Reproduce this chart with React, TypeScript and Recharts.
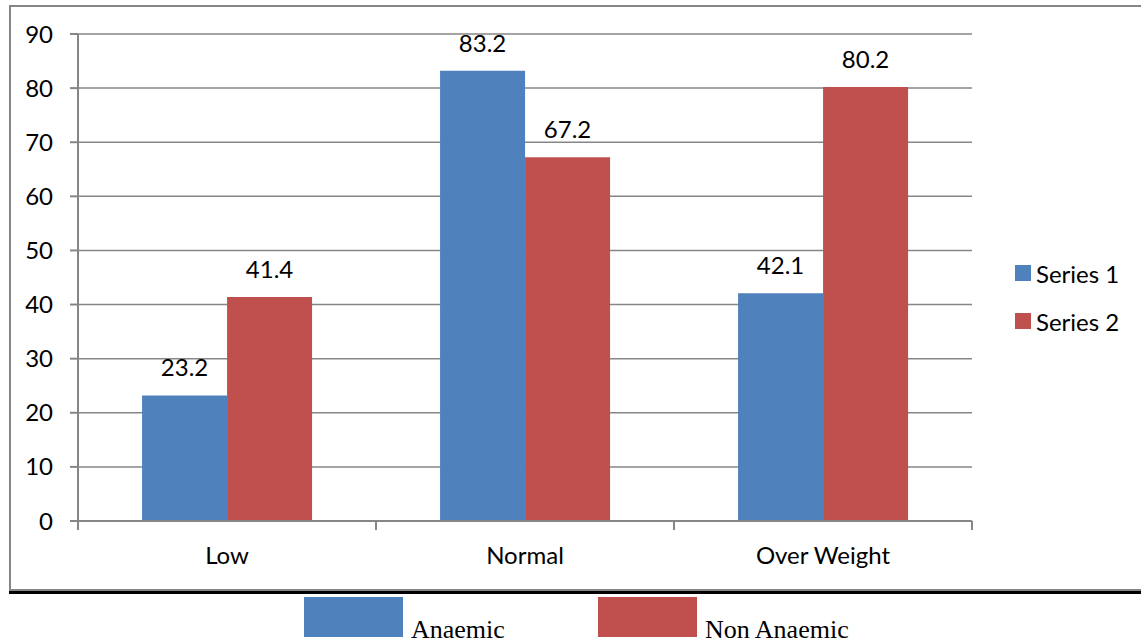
import React from "react";
import { BarChart, Bar, XAxis, YAxis, CartesianGrid, Legend, LabelList } from "recharts";

const categories = ["Low", "Normal", "Over Weight"];
const series1 = [23.2, 83.2, 42.1];
const series2 = [41.4, 67.2, 80.2];
const yTicks = [0, 10, 20, 30, 40, 50, 60, 70, 80, 90];
const bottomLegend = ["Anaemic", "Non Anaemic"];

const BLUE = "#4F81BD";
const RED = "#C0504D";
const GRAY = "#868686";
const FONT = "Lato, 'Open Sans', sans-serif";

const data = categories.map((c, i) => ({ name: c, s1: series1[i], s2: series2[i] }));

const SideLegend = ({ payload }: any) => (
  <div style={{ fontFamily: FONT, fontSize: 24, color: "#000" }}>
    {(payload || []).map((p: any) => (
      <div key={p.value} style={{ display: "flex", alignItems: "center", height: 48 }}>
        <span style={{ width: 16, height: 16, background: p.color, marginRight: 5, display: "inline-block" }} />
        <span>{p.value}</span>
      </div>
    ))}
  </div>
);

// category label plus tick marks on the band edges (Excel style)
const CatTick = (props: any) => {
  const { x, y, payload, width, visibleTicksCount, index } = props;
  const half = width && visibleTicksCount ? width / visibleTicksCount / 2 : payload?.offset || 0;
  const last = index === visibleTicksCount - 1;
  return (
    <g>
      <line x1={x - half} x2={x - half} y1={y} y2={y + 9} stroke={GRAY} strokeWidth={2} />
      {last && <line x1={x + half} x2={x + half} y1={y} y2={y + 9} stroke={GRAY} strokeWidth={2} />}
      <text x={x} y={y + 26} dy="0.71em" textAnchor="middle" fill="#000" fontSize={24} fontFamily={FONT}>
        {payload.value}
      </text>
    </g>
  );
};

export default function App() {
  return (
    <div style={{ position: "absolute", left: 0, top: 0, width: 1141, height: 643, overflow: "hidden", background: "#fff" }}>
      {/* chart frame */}
      <div style={{ position: "absolute", left: 9, top: 5, width: 1200, height: 582, borderLeft: `2px solid ${GRAY}`, borderTop: `2px solid ${GRAY}`, borderBottom: `2px solid ${GRAY}` }} />
      <div style={{ position: "absolute", left: 9, top: 591, width: 1140, height: 3, background: "#000" }} />
      <div style={{ position: "absolute", left: 0, top: 0 }}>
        <BarChart width={1141} height={590} data={data} margin={{ top: 34, right: 43, bottom: 0, left: 0 }} barGap={0} barCategoryGap="21.5%">
          <CartesianGrid vertical={false} stroke={GRAY} strokeWidth={1.5} />
          <XAxis dataKey="name" height={69} interval={0} axisLine={{ stroke: GRAY, strokeWidth: 2 }} tickLine={false} tickSize={0} tickMargin={0} tick={<CatTick />} />
          <YAxis width={78} domain={[0, 90]} ticks={yTicks} interval={0} axisLine={{ stroke: GRAY, strokeWidth: 2 }} tickLine={{ stroke: GRAY, strokeWidth: 2 }} tickSize={8} tickMargin={17} tick={{ fill: "#000", fontSize: 24, fontFamily: FONT }} />
          <Legend layout="vertical" align="right" verticalAlign="middle" content={<SideLegend />} wrapperStyle={{ left: 1015, top: 249, width: 126 }} />
          <Bar dataKey="s1" name="Series 1" fill={BLUE} isAnimationActive={false}>
            <LabelList dataKey="s1" position="top" offset={19} style={{ fill: "#000", fontSize: 24, fontFamily: FONT }} />
          </Bar>
          <Bar dataKey="s2" name="Series 2" fill={RED} isAnimationActive={false}>
            <LabelList dataKey="s2" position="top" offset={19} style={{ fill: "#000", fontSize: 24, fontFamily: FONT }} />
          </Bar>
        </BarChart>
      </div>
      {/* bottom legend */}
      {[BLUE, RED].map((c, i) => (
        <div key={c} style={{ position: "absolute", left: 304 + i * 294, top: 597, display: "flex", alignItems: "flex-end" }}>
          <span style={{ width: 99, height: 40, background: c, display: "inline-block" }} />
          <span style={{ fontFamily: "'Liberation Serif', 'Times New Roman', serif", fontSize: 26, lineHeight: "26px", marginLeft: 8, marginBottom: -6, color: "#000" }}>{bottomLegend[i]}</span>
        </div>
      ))}
    </div>
  );
}
